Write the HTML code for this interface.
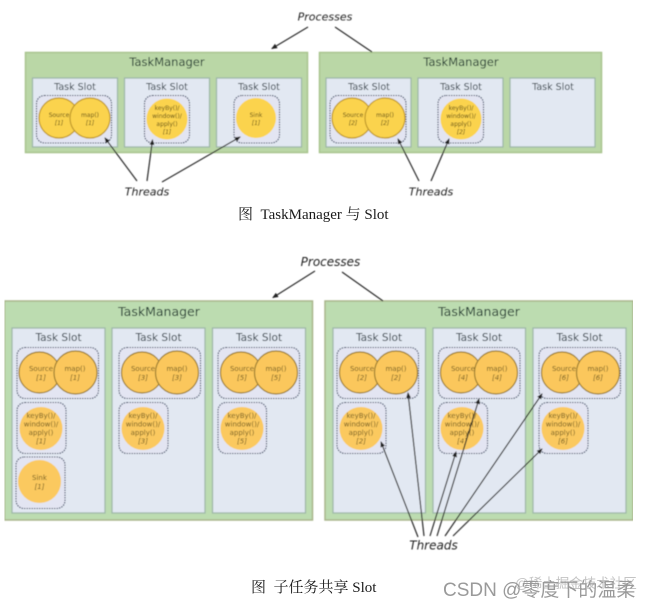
<!DOCTYPE html>
<html><head><meta charset="utf-8">
<style>
html,body{margin:0;padding:0;background:#fff;width:649px;height:609px;overflow:hidden}
svg{display:block}
text{font-family:"DejaVu Sans","Liberation Sans",sans-serif}
.tm{fill:#bad7a6;stroke:#a8c48e;stroke-width:1.5}
.tm2{fill:#bcdcb0;stroke:#a9b58b;stroke-width:1.5}
.s{fill:#e2e8f2;stroke:#9fb8a8;stroke-width:1.3}
.g{fill:#e3e5f2;stroke:#33415e;stroke-width:1.1;stroke-dasharray:1.5 1}
.c{fill:#fbd34d;stroke:#c09a2c;stroke-width:1.2}
.n{fill:#fbd34d}
.c2{fill:#fbc75c;stroke:#9c7e30;stroke-width:1.2}
.n2{fill:#fbc95e}
.t1{font-size:11.5px;fill:#14302a;text-anchor:middle}
.t2{font-size:12.5px;fill:#14302a;text-anchor:middle}
.st{font-size:9.5px;fill:#1e2e38;text-anchor:middle}
.st2{font-size:10.5px;fill:#1e2e38;text-anchor:middle}
.f{font-size:6px;fill:#5a4a10;text-anchor:middle}
.f2{font-size:7px;fill:#6f5a20;text-anchor:middle}
.i{font-style:italic}
.lab{font-size:11px;font-style:italic;fill:#222;text-anchor:middle}
.lab2{font-size:12px;font-style:italic;fill:#222;text-anchor:middle}
.l{stroke:#2a2a2a;stroke-width:1.2;fill:none}
.cap{font-family:"Liberation Serif","Noto Serif CJK SC",serif;font-size:15px;fill:#1a1a1a}
</style></head><body>
<svg width="649" height="609" viewBox="0 0 649 609" xmlns="http://www.w3.org/2000/svg">
<defs>
<marker id="a" markerWidth="6" markerHeight="5" refX="5" refY="2.5" orient="auto" markerUnits="userSpaceOnUse"><path d="M0 0L6 2.5L0 5z" fill="#222"/></marker>
<filter id="b" x="0" y="0" width="100%" height="100%"><feGaussianBlur stdDeviation="0.45"/></filter>
</defs>
<g filter="url(#b)">
<!-- Top diagram -->
<rect class="tm" x="25.500" y="52.500" width="282" height="100"/>
<rect class="tm" x="319.500" y="52.500" width="282" height="100"/>
<text class="t1" x="167" y="66">TaskManager</text>
<text class="t1" x="461" y="66">TaskManager</text>
<rect class="s" x="32.500" y="78" width="85" height="69"/>
<rect class="s" x="124.500" y="78" width="85" height="69"/>
<rect class="s" x="216.500" y="78" width="85" height="69"/>
<rect class="s" x="326" y="78" width="85" height="69"/>
<rect class="s" x="418" y="78" width="85" height="69"/>
<rect class="s" x="510" y="78" width="85" height="69"/>
<text class="st" x="75" y="90">Task Slot</text>
<text class="st" x="167" y="90">Task Slot</text>
<text class="st" x="259" y="90">Task Slot</text>
<text class="st" x="369" y="90">Task Slot</text>
<text class="st" x="461" y="90">Task Slot</text>
<text class="st" x="553" y="90">Task Slot</text>
<rect class="g" x="36.500" y="95.500" width="75" height="47.500" rx="8"/>
<rect class="g" x="144.500" y="95.500" width="45" height="47.500" rx="8"/>
<rect class="g" x="234" y="95.500" width="45.500" height="47.500" rx="8"/>
<rect class="g" x="330" y="95.500" width="76" height="47.500" rx="8"/>
<rect class="g" x="438" y="95.500" width="45.500" height="47.500" rx="8"/>
<circle class="c" cx="59" cy="118" r="20"/><circle class="c" cx="90" cy="118" r="20"/>
<circle class="n" cx="167" cy="119" r="20.500"/><circle class="n" cx="256" cy="118" r="20"/>
<circle class="c" cx="352" cy="118" r="20"/><circle class="c" cx="385" cy="118" r="20"/>
<circle class="n" cx="461" cy="119" r="20.500"/>
<text class="f" x="59" y="117">Source</text><text class="f i" x="59" y="125">[1]</text>
<text class="f" x="90" y="117">map()</text><text class="f i" x="90" y="125">[1]</text>
<text class="f" x="167" y="110">keyBy()/</text><text class="f" x="167" y="118">window()/</text><text class="f" x="167" y="126">apply()</text><text class="f i" x="167" y="134">[1]</text>
<text class="f" x="256" y="117">Sink</text><text class="f i" x="256" y="125">[1]</text>
<text class="f" x="353" y="117">Source</text><text class="f i" x="353" y="125">[2]</text>
<text class="f" x="385" y="117">map()</text><text class="f i" x="385" y="125">[2]</text>
<text class="f" x="461" y="110">keyBy()/</text><text class="f" x="461" y="118">window()/</text><text class="f" x="461" y="126">apply()</text><text class="f i" x="461" y="134">[2]</text>
<!-- Bottom diagram -->
<rect class="tm2" x="4.500" y="301" width="308" height="219"/>
<rect class="tm2" x="325" y="301" width="308" height="219"/>
<text class="t2" x="159" y="316">TaskManager</text>
<text class="t2" x="479" y="316">TaskManager</text>
<rect class="s" x="12" y="328" width="93" height="185"/>
<rect class="s" x="112" y="328" width="93" height="185"/>
<rect class="s" x="212.500" y="328" width="93" height="185"/>
<rect class="s" x="333" y="328" width="92.500" height="185"/>
<rect class="s" x="433" y="328" width="92.500" height="185"/>
<rect class="s" x="533" y="328" width="93" height="185"/>
<text class="st2" x="58.500" y="341">Task Slot</text>
<text class="st2" x="158.500" y="341">Task Slot</text>
<text class="st2" x="259" y="341">Task Slot</text>
<text class="st2" x="379" y="341">Task Slot</text>
<text class="st2" x="479" y="341">Task Slot</text>
<text class="st2" x="579.500" y="341">Task Slot</text>
<rect class="g" x="17" y="347.500" width="81.500" height="51" rx="8"/>
<rect class="g" x="119" y="347.500" width="81.500" height="51" rx="8"/>
<rect class="g" x="218" y="347.500" width="81.500" height="51" rx="8"/>
<rect class="g" x="337" y="347.500" width="81.500" height="51" rx="8"/>
<rect class="g" x="438.500" y="347.500" width="81.500" height="51" rx="8"/>
<rect class="g" x="539" y="347.500" width="81.500" height="51" rx="8"/>
<rect class="g" x="17" y="402.500" width="49" height="51" rx="8"/>
<rect class="g" x="119" y="402.500" width="49" height="51" rx="8"/>
<rect class="g" x="218" y="402.500" width="48.500" height="51" rx="8"/>
<rect class="g" x="337" y="402.500" width="49" height="51" rx="8"/>
<rect class="g" x="438.500" y="402.500" width="49" height="51" rx="8"/>
<rect class="g" x="539" y="402.500" width="49" height="51" rx="8"/>
<rect class="g" x="16" y="457" width="49" height="51.500" rx="8"/>
<circle class="c2" cx="39.500" cy="372.500" r="20.500"/><circle class="c2" cx="75.500" cy="372.500" r="21.500"/>
<circle class="c2" cx="142" cy="372.500" r="20.500"/><circle class="c2" cx="177" cy="372.500" r="21.500"/>
<circle class="c2" cx="241" cy="372.500" r="20.500"/><circle class="c2" cx="276" cy="372.500" r="21.500"/>
<circle class="c2" cx="360" cy="372.500" r="20.500"/><circle class="c2" cx="396" cy="372.500" r="21.500"/>
<circle class="c2" cx="461" cy="372.500" r="20.500"/><circle class="c2" cx="496" cy="372.500" r="21.500"/>
<circle class="c2" cx="562" cy="372.500" r="20.500"/><circle class="c2" cx="598" cy="372.500" r="21.500"/>
<circle class="n2" cx="41" cy="428.500" r="21.500"/><circle class="n2" cx="143" cy="428.500" r="21.500"/><circle class="n2" cx="242" cy="428.500" r="21.500"/>
<circle class="n2" cx="361" cy="428.500" r="21.500"/><circle class="n2" cx="462" cy="428.500" r="21.500"/><circle class="n2" cx="563" cy="428.500" r="21.500"/>
<circle class="n2" cx="39.500" cy="481.500" r="21.500"/>
<text class="f2" x="41" y="371">Source</text><text class="f2 i" x="41" y="380">[1]</text>
<text class="f2" x="75" y="371">map()</text><text class="f2 i" x="75" y="380">[1]</text>
<text class="f2" x="143" y="371">Source</text><text class="f2 i" x="143" y="380">[3]</text>
<text class="f2" x="177" y="371">map()</text><text class="f2 i" x="177" y="380">[3]</text>
<text class="f2" x="242" y="371">Source</text><text class="f2 i" x="242" y="380">[5]</text>
<text class="f2" x="276" y="371">map()</text><text class="f2 i" x="276" y="380">[5]</text>
<text class="f2" x="362" y="371">Source</text><text class="f2 i" x="362" y="380">[2]</text>
<text class="f2" x="396" y="371">map()</text><text class="f2 i" x="396" y="380">[2]</text>
<text class="f2" x="463" y="371">Source</text><text class="f2 i" x="463" y="380">[4]</text>
<text class="f2" x="497" y="371">map()</text><text class="f2 i" x="497" y="380">[4]</text>
<text class="f2" x="564" y="371">Source</text><text class="f2 i" x="564" y="380">[6]</text>
<text class="f2" x="598" y="371">map()</text><text class="f2 i" x="598" y="380">[6]</text>
<text class="f2" x="41" y="418">keyBy()/</text><text class="f2" x="41" y="426.500">window()/</text><text class="f2" x="41" y="435">apply()</text><text class="f2 i" x="41" y="443.500">[1]</text>
<text class="f2" x="143" y="418">keyBy()/</text><text class="f2" x="143" y="426.500">window()/</text><text class="f2" x="143" y="435">apply()</text><text class="f2 i" x="143" y="443.500">[3]</text>
<text class="f2" x="242" y="418">keyBy()/</text><text class="f2" x="242" y="426.500">window()/</text><text class="f2" x="242" y="435">apply()</text><text class="f2 i" x="242" y="443.500">[5]</text>
<text class="f2" x="361" y="418">keyBy()/</text><text class="f2" x="361" y="426.500">window()/</text><text class="f2" x="361" y="435">apply()</text><text class="f2 i" x="361" y="443.500">[2]</text>
<text class="f2" x="462" y="418">keyBy()/</text><text class="f2" x="462" y="426.500">window()/</text><text class="f2" x="462" y="435">apply()</text><text class="f2 i" x="462" y="443.500">[4]</text>
<text class="f2" x="563" y="418">keyBy()/</text><text class="f2" x="563" y="426.500">window()/</text><text class="f2" x="563" y="435">apply()</text><text class="f2 i" x="563" y="443.500">[6]</text>
<text class="f2" x="39.500" y="480">Sink</text><text class="f2 i" x="39.500" y="489">[1]</text>
<!-- Connectors -->
<line class="l" x1="308" y1="27" x2="272" y2="48.500" marker-end="url(#a)"/>
<line class="l" x1="335" y1="27" x2="372" y2="52"/>
<line class="l" x1="137" y1="181" x2="105" y2="138" marker-end="url(#a)"/>
<line class="l" x1="147" y1="181" x2="152.500" y2="140" marker-end="url(#a)"/>
<line class="l" x1="162" y1="182" x2="240" y2="137" marker-end="url(#a)"/>
<line class="l" x1="419" y1="181" x2="398" y2="139" marker-end="url(#a)"/>
<line class="l" x1="431" y1="181" x2="449" y2="139" marker-end="url(#a)"/>
<line class="l" x1="315" y1="271" x2="273" y2="297.500" marker-end="url(#a)"/>
<line class="l" x1="342" y1="272" x2="383" y2="301"/>
<line class="l" x1="418" y1="537" x2="381" y2="442" marker-end="url(#a)"/>
<line class="l" x1="424" y1="536" x2="408" y2="393" marker-end="url(#a)"/>
<line class="l" x1="430" y1="536" x2="456" y2="452" marker-end="url(#a)"/>
<line class="l" x1="437" y1="536" x2="479" y2="399" marker-end="url(#a)"/>
<line class="l" x1="445" y1="536" x2="542" y2="394" marker-end="url(#a)"/>
<line class="l" x1="453" y1="536" x2="542" y2="449" marker-end="url(#a)"/>
<text class="lab" x="325" y="20.500">Processes</text>
<text class="lab" x="147" y="195.500">Threads</text>
<text class="lab" x="431" y="195.500">Threads</text>
<text class="lab2" x="330.500" y="266">Processes</text>
<text class="lab2" x="433.500" y="549.500">Threads</text>
</g>
<text class="cap" x="238" y="219" xml:space="preserve">图  TaskManager 与 Slot</text>
<text class="cap" x="251" y="592" xml:space="preserve">图  子任务共享 Slot</text>
<text x="515" y="588" style="font-family:'Liberation Sans','Noto Sans CJK SC',sans-serif;font-size:13.500px;fill:#c4c4c4">@稀土掘金技术社区</text>
<text x="443" y="596" style="font-family:'Liberation Sans','Noto Sans CJK SC',sans-serif;font-size:19px;fill:#9a9a9a">CSDN @零度下的温柔</text>
</svg>
</body></html>
